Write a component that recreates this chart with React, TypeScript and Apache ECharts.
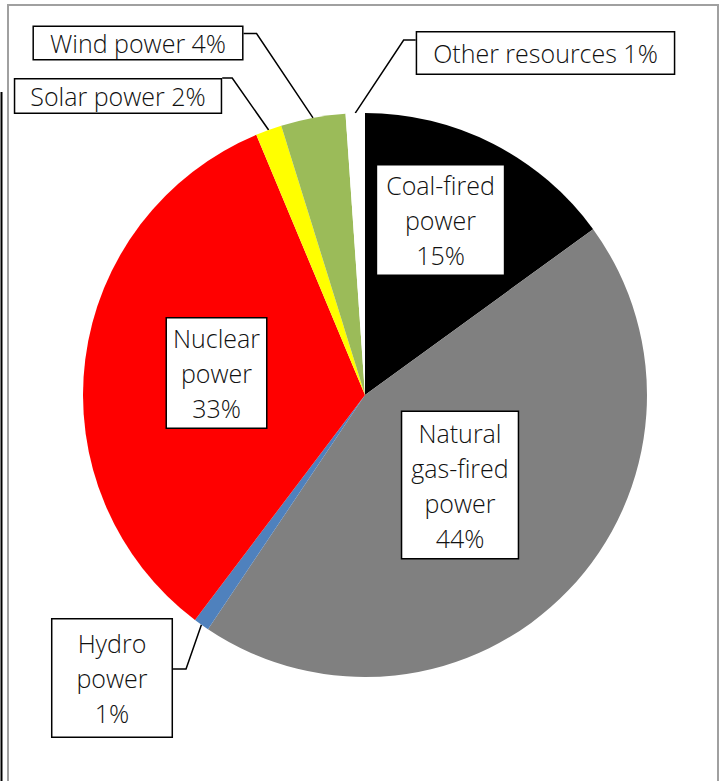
import React, { useEffect, useRef } from 'react';
import * as echarts from 'echarts';

// ---- data ----
const categories = [
  'Coal-fired power',
  'Natural gas-fired power',
  'Hydro power',
  'Nuclear power',
  'Solar power',
  'Wind power',
  'Other resources',
];
const shares = [15.0, 44.4, 0.9, 33.4, 1.5, 3.7, 1.1];
const colors = ['#000000', '#808080', '#4F81BD', '#FF0000', '#FFFF00', '#9BBB59', '#FFFFFF'];
const stackedLabel = [true, true, true, true, false, false, false];
const insideLabel = [true, true, false, true, false, false, false];

// ---- label box placement (layout only) ----
type Lead = { side: 'left' | 'right'; dy: number; len: number };
type Place = { cx: number; cy: number; pad: number[]; lh: number; lead?: Lead };
const placement: Place[] = [
  { cx: 440.5, cy: 220, pad: [2, 9], lh: 35 },
  { cx: 460, cy: 485, pad: [3, 9], lh: 35 },
  { cx: 112, cy: 678, pad: [6, 24], lh: 35, lead: { side: 'right', dy: 51, len: 13 } },
  { cx: 216.5, cy: 373, pad: [2, 6], lh: 35 },
  { cx: 118, cy: 96, pad: [0, 15], lh: 33, lead: { side: 'right', dy: 0, len: 10 } },
  { cx: 138, cy: 43, pad: [0, 16], lh: 32, lead: { side: 'right', dy: 8, len: 13 } },
  { cx: 545.5, cy: 53, pad: [3, 16], lh: 35, lead: { side: 'left', dy: 9, len: 12 } },
];

export default function App() {
  const ref = useRef<HTMLDivElement>(null);
  useEffect(() => {
    if (!ref.current) return;
    const chart = echarts.init(ref.current, undefined, { renderer: 'svg' });
    const font = 'Open Sans, Liberation Sans, sans-serif';
    chart.setOption({
      animation: false,
      backgroundColor: '#ffffff',
      graphic: [
        {
          type: 'rect',
          shape: { x: 8, y: 5, width: 710, height: 800 },
          style: { fill: 'none', stroke: '#a0a0a0', lineWidth: 2 },
          silent: true,
          z: -10,
        },
        {
          type: 'line',
          shape: { x1: 1.5, y1: 92, x2: 1.5, y2: 790 },
          style: { stroke: '#000000', lineWidth: 2 },
          silent: true,
          z: -10,
        },
      ],
      series: [
        {
          type: 'pie',
          center: [365, 395],
          radius: 282,
          startAngle: 90,
          clockwise: true,
          avoidLabelOverlap: false,
          silent: true,
          itemStyle: { borderWidth: 0 },
          label: {
            color: '#111111',
            fontFamily: font,
            fontSize: 25,
            fontWeight: 300,
            lineHeight: 35,
            backgroundColor: '#ffffff',
            borderColor: '#000000',
            borderWidth: 1.5,
            formatter: (p: any) => {
              const i = p.dataIndex;
              const pct = Math.round(p.value) + '%';
              return stackedLabel[i]
                ? p.name.split(' ').join('\n') + '\n' + pct
                : p.name + ' ' + pct;
            },
          },
          labelLine: {
            lineStyle: { color: '#000000', width: 1.5 },
          },
          labelLayout: (params: any) => {
            const i = params.dataIndex;
            const pl = placement[i];
            const res: any = { x: pl.cx, y: pl.cy, align: 'center', verticalAlign: 'middle' };
            if (pl.lead && params.labelLinePoints) {
              const w = params.labelRect.width;
              const h = params.labelRect.height;
              const start = params.labelLinePoints[0];
              const ex = pl.lead.side === 'right' ? pl.cx + w / 2 : pl.cx - w / 2;
              const ey = pl.cy - h / 2 + pl.lead.dy;
              const bx = ex + (pl.lead.side === 'right' ? pl.lead.len : -pl.lead.len);
              res.labelLinePoints = [start, [bx, ey], [ex, ey]];
            }
            return res;
          },
          data: categories.map((name, i) => ({
            name,
            value: shares[i],
            itemStyle: { color: colors[i] },
            label: {
              position: insideLabel[i] ? 'inside' : 'outside',
              color: '#111111',
              padding: placement[i].pad,
              lineHeight: placement[i].lh,
            },
            labelLine: { show: !insideLabel[i], lineStyle: { color: '#000000', width: 1.5 } },
          })),
        },
      ],
    });
    return () => chart.dispose();
  }, []);
  return (
    <div
      ref={ref}
      style={{ position: 'fixed', left: 0, top: 0, width: 721, height: 781 }}
    />
  );
}
